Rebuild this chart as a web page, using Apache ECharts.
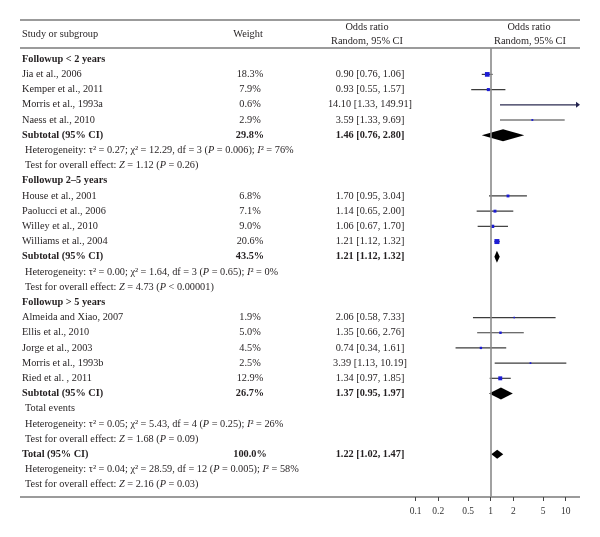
<!DOCTYPE html>
<html><head><meta charset="utf-8">
<script src="https://cdn.jsdelivr.net/npm/echarts@6/dist/echarts.min.js"></script>
<style>html,body{margin:0;padding:0;background:#fff}#c{width:600px;height:537px}</style>
</head><body><div id="c"></div>
<script>
// ---------------- data ----------------
const groupTitles = ['Followup < 2 years', 'Followup 2–5 years', 'Followup > 5 years'];
const studyNames = ['Jia et al., 2006', 'Kemper et al., 2011', 'Morris et al., 1993a', 'Naess et al., 2010',
  'House et al., 2001', 'Paolucci et al., 2006', 'Willey et al., 2010', 'Williams et al., 2004',
  'Almeida and Xiao, 2007', 'Ellis et al., 2010', 'Jorge et al., 2003', 'Morris et al., 1993b', 'Ried et al. , 2011'];
const studyGroup = [0, 0, 0, 0, 1, 1, 1, 1, 2, 2, 2, 2, 2];
const studyWeight = [18.3, 7.9, 0.6, 2.9, 6.8, 7.1, 9.0, 20.6, 1.9, 5.0, 4.5, 2.5, 12.9];
const studyOR = [0.90, 0.93, 14.10, 3.59, 1.70, 1.14, 1.06, 1.21, 2.06, 1.35, 0.74, 3.39, 1.34];
const studyLow = [0.76, 0.55, 1.33, 1.33, 0.95, 0.65, 0.67, 1.12, 0.58, 0.66, 0.34, 1.13, 0.97];
const studyHigh = [1.06, 1.57, 149.91, 9.69, 3.04, 2.00, 1.70, 1.32, 7.33, 2.76, 1.61, 10.19, 1.85];
const subtotalWeight = [29.8, 43.5, 26.7];
const subtotalOR = [1.46, 1.21, 1.37];
const subtotalLow = [0.76, 1.12, 0.95];
const subtotalHigh = [2.80, 1.32, 1.97];
const totalWeight = 100.0, totalOR = 1.22, totalLow = 1.02, totalHigh = 1.47;
const heterogeneityText = [
  'Heterogeneity: τ² = 0.27; χ² = 12.29, df = 3 ({i|P} = 0.006); {i|I}² = 76%',
  'Heterogeneity: τ² = 0.00; χ² = 1.64, df = 3 ({i|P} = 0.65); {i|I}² = 0%',
  'Heterogeneity: τ² = 0.05; χ² = 5.43, df = 4 ({i|P} = 0.25); {i|I}² = 26%',
  'Heterogeneity: τ² = 0.04; χ² = 28.59, df = 12 ({i|P} = 0.005); {i|I}² = 58%'
];
const overallEffectText = [
  'Test for overall effect: {i|Z} = 1.12 ({i|P} = 0.26)',
  'Test for overall effect: {i|Z} = 4.73 ({i|P} < 0.00001)',
  'Test for overall effect: {i|Z} = 1.68 ({i|P} = 0.09)',
  'Test for overall effect: {i|Z} = 2.16 ({i|P} = 0.03)'
];
const axisTickValues = [0.1, 0.2, 0.5, 1, 2, 5, 10];

// ---------------- build rows ----------------
const rows = [];
for (let g = 0; g < 3; g++) {
  rows.push({ kind: 'group', text: groupTitles[g] });
  studyNames.forEach((n, k) => {
    if (studyGroup[k] === g) rows.push({ kind: 'study', text: n, w: studyWeight[k], or: studyOR[k], lo: studyLow[k], hi: studyHigh[k] });
  });
  rows.push({ kind: 'subtotal', text: 'Subtotal (95% CI)', w: subtotalWeight[g], or: subtotalOR[g], lo: subtotalLow[g], hi: subtotalHigh[g] });
  if (g === 2) rows.push({ kind: 'note', text: 'Total events' });
  rows.push({ kind: 'note', text: heterogeneityText[g] });
  rows.push({ kind: 'note', text: overallEffectText[g] });
}
rows.push({ kind: 'total', text: 'Total (95% CI)', w: totalWeight, or: totalOR, lo: totalLow, hi: totalHigh });
rows.push({ kind: 'note', text: heterogeneityText[3] });
rows.push({ kind: 'note', text: overallEffectText[3] });

const FF = '"Liberation Serif", "DejaVu Serif", serif';
const FS = 10.3;
const TXT = '#231f20';
const isBold = r => r.kind === 'group' || r.kind === 'subtotal' || r.kind === 'total';
const fontOf = (bold, italic) => (italic ? 'italic ' : '') + (bold ? 'bold ' : '') + FS + 'px ' + FF;
const fmt2 = v => v.toFixed(2);

const L10 = Math.log10;
const forestData = [];
rows.forEach((r, i) => {
  if (r.or != null) forestData.push([L10(r.or), i, L10(r.lo), L10(r.hi), r.w, r.kind === 'study' ? 0 : (r.kind === 'total' ? 2 : 1)]);
});

// y layout (shared by all grids)
const Y_MIN = -0.737, Y_MAX = 28.81;
const GRID_TOP = 48, GRID_BOTTOM = 40;

function yAxisCfg(idx) {
  return { gridIndex: idx, type: 'value', inverse: true, min: Y_MIN, max: Y_MAX, show: false };
}
function xTextAxis(idx) {
  return { gridIndex: idx, type: 'value', min: 0, max: 1, show: false };
}

function textSeries(gridIdx, getText, align, extraOffset) {
  return {
    type: 'custom', xAxisIndex: gridIdx, yAxisIndex: gridIdx, silent: true,
    data: rows.map((r, i) => [0, i]),
    renderItem: function (params, api) {
      const r = rows[params.dataIndex];
      const t = getText(r);
      if (t == null) return null;
      const p = api.coord([0, api.value(1)]);
      const b = isBold(r);
      return {
        type: 'text',
        x: p[0] + (extraOffset ? extraOffset(r) : 0), y: p[1],
        style: {
          text: t, fill: TXT, font: fontOf(b, false), align: align, verticalAlign: 'middle',
          rich: { i: { font: fontOf(b, true), fill: TXT } }
        }
      };
    }
  };
}

const option = {
  animation: false,
  backgroundColor: '#fff',
  grid: [
    { left: 407, right: 20, top: GRID_TOP, bottom: GRID_BOTTOM },
    { left: 22, width: 1, top: GRID_TOP, bottom: GRID_BOTTOM },
    { left: 250, width: 1, top: GRID_TOP, bottom: GRID_BOTTOM },
    { left: 370, width: 1, top: GRID_TOP, bottom: GRID_BOTTOM }
  ],
  xAxis: [
    {
      gridIndex: 0, type: 'value', position: 'bottom', min: L10(0.0766), max: L10(15.5),
      axisLine: { show: false, onZero: false },
      splitLine: { show: false },
      axisTick: { show: true, customValues: axisTickValues.map(L10), length: 4, lineStyle: { color: '#444', width: 1 } },
      axisLabel: {
        customValues: axisTickValues.map(L10), margin: 9,
        formatter: v => String(+Math.pow(10, v).toPrecision(2)),
        fontFamily: FF, fontSize: 9.5, color: '#333'
      }
    },
    xTextAxis(1), xTextAxis(2), xTextAxis(3)
  ],
  yAxis: [yAxisCfg(0), yAxisCfg(1), yAxisCfg(2), yAxisCfg(3)],
  graphic: [
    { type: 'line', shape: { x1: 20, y1: 20, x2: 580, y2: 20 }, style: { stroke: '#7a7a7a', lineWidth: 1.5 } },
    { type: 'line', shape: { x1: 20, y1: 48, x2: 580, y2: 48 }, style: { stroke: '#7a7a7a', lineWidth: 1.5 } },
    { type: 'line', shape: { x1: 20, y1: 497, x2: 580, y2: 497 }, style: { stroke: '#7a7a7a', lineWidth: 1.5 } },
    { type: 'text', x: 22, y: 34, style: { text: 'Study or subgroup', font: fontOf(false), fill: TXT, align: 'left', verticalAlign: 'middle' } },
    { type: 'text', x: 248, y: 34, style: { text: 'Weight', font: fontOf(false), fill: TXT, align: 'center', verticalAlign: 'middle' } },
    { type: 'text', x: 367, y: 27, style: { text: 'Odds ratio', font: fontOf(false), fill: TXT, align: 'center', verticalAlign: 'middle' } },
    { type: 'text', x: 367, y: 41, style: { text: 'Random, 95% CI', font: fontOf(false), fill: TXT, align: 'center', verticalAlign: 'middle' } },
    { type: 'text', x: 529, y: 27, style: { text: 'Odds ratio', font: fontOf(false), fill: TXT, align: 'center', verticalAlign: 'middle' } },
    { type: 'text', x: 530, y: 41, style: { text: 'Random, 95% CI', font: fontOf(false), fill: TXT, align: 'center', verticalAlign: 'middle' } }
  ],
  series: [
    // null line at OR = 1
    {
      type: 'custom', xAxisIndex: 0, yAxisIndex: 0, silent: true, data: [],
      renderItem: () => null,
      markLine: {
        silent: true, symbol: 'none', label: { show: false },
        lineStyle: { color: '#8a8a8a', width: 1.6, type: 'solid' },
        data: [{ xAxis: 0 }]
      }
    },
    // studies: CI lines + weighted squares
    {
      type: 'custom', xAxisIndex: 0, yAxisIndex: 0, silent: true, clip: false,
      encode: { x: 0, y: 1 },
      data: forestData.filter(d => d[5] === 0),
      renderItem: function (params, api) {
        const yv = api.value(1);
        const c = api.coord([api.value(0), yv]);
        const lo = api.coord([api.value(2), yv]);
        const hi = api.coord([api.value(3), yv]);
        const cs = params.coordSys;
        const xmin = cs.x, xmax = cs.x + cs.width;
        const over = hi[0] > xmax;
        const x1 = Math.max(lo[0], xmin), x2 = Math.min(hi[0], xmax);
        const s = Math.max(1.6, Math.sqrt(api.value(4)) * 1.1);
        const lineColor = over ? '#2b2b50' : '#3c3c3c';
        const children = [
          { type: 'line', shape: { x1: x1, y1: c[1], x2: over ? x2 - 3 : x2, y2: c[1] }, style: { stroke: lineColor, lineWidth: 1.2 } },
          { type: 'rect', shape: { x: c[0] - s / 2, y: c[1] - s / 2, width: s, height: s }, style: { fill: '#1c1cd4' } }
        ];
        if (over) {
          children.push({ type: 'polygon', shape: { points: [[x2 - 4, c[1] - 3], [x2, c[1]], [x2 - 4, c[1] + 3]] }, style: { fill: '#22224e' } });
        }
        return { type: 'group', children: children };
      }
    },
    // pooled estimates: diamonds
    {
      type: 'custom', xAxisIndex: 0, yAxisIndex: 0, silent: true,
      encode: { x: 0, y: 1 },
      data: forestData.filter(d => d[5] !== 0),
      renderItem: function (params, api) {
        const yv = api.value(1);
        const c = api.coord([api.value(0), yv]);
        const lo = api.coord([api.value(2), yv]);
        const hi = api.coord([api.value(3), yv]);
        const h = api.value(5) === 2 ? 4.5 : 6;
        return {
          type: 'polygon',
          shape: { points: [[lo[0], c[1]], [c[0], c[1] - h], [hi[0], c[1]], [c[0], c[1] + h]] },
          style: { fill: '#000' }
        };
      }
    },
    textSeries(1, r => r.text, 'left', r => (r.kind === 'note' ? 3 : 0)),
    textSeries(2, r => (r.w != null ? r.w.toFixed(1) + '%' : null), 'center'),
    textSeries(3, r => (r.or != null ? fmt2(r.or) + ' [' + fmt2(r.lo) + ', ' + fmt2(r.hi) + ']' : null), 'center')
  ]
};

const chart = echarts.init(document.getElementById('c'), null, { renderer: 'canvas' });
chart.setOption(option);
</script>
</body></html>
